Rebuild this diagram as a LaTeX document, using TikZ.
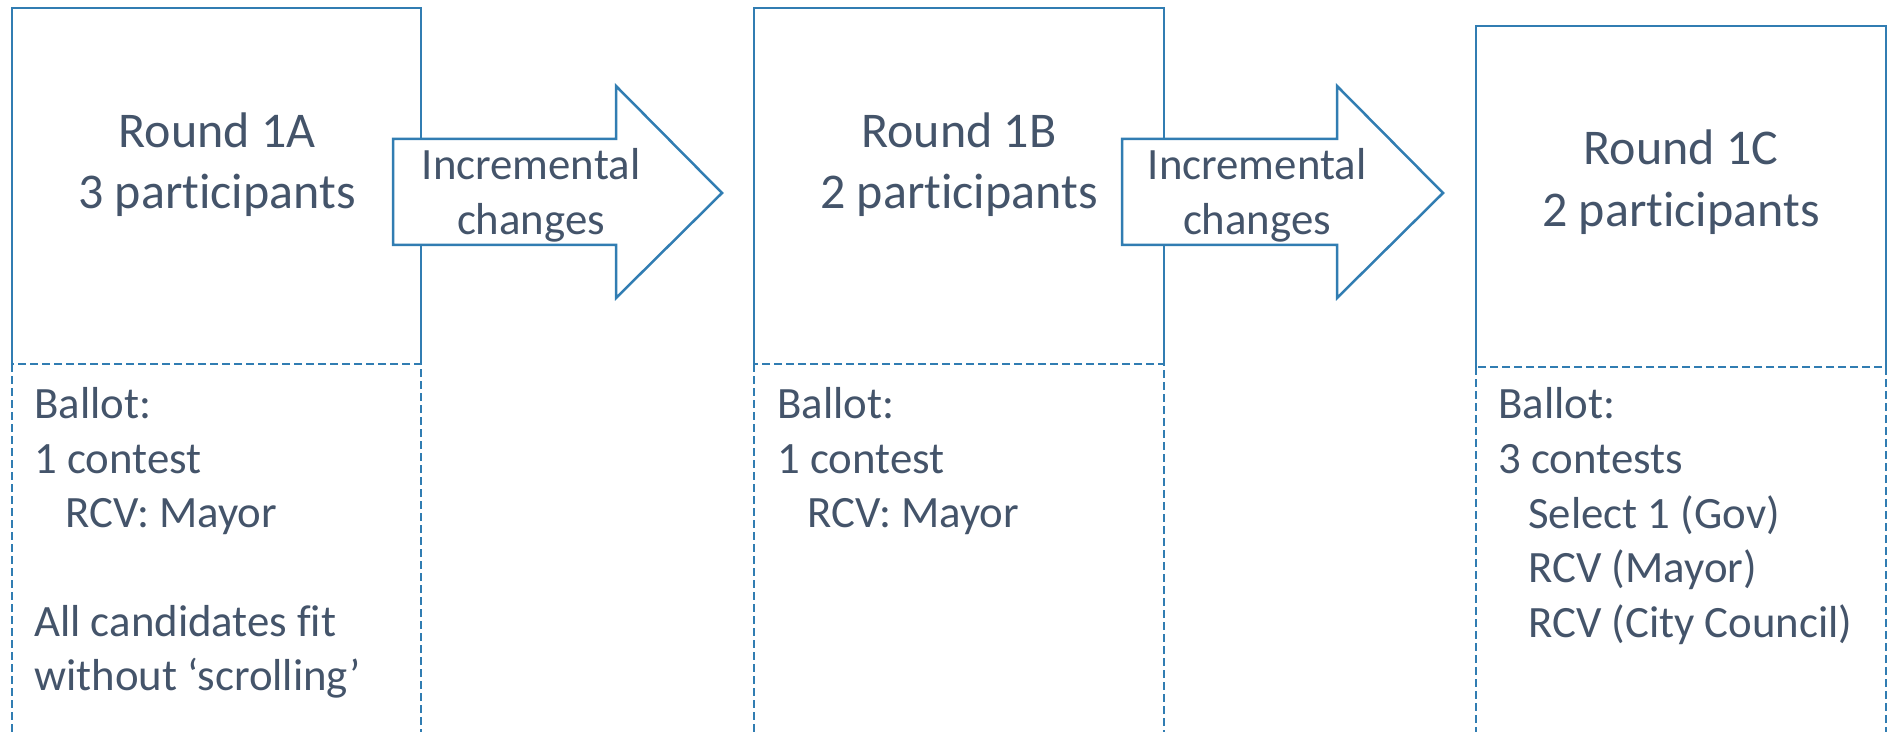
\documentclass[tikz,border=0pt]{standalone}
\usepackage{fontspec}
\setmainfont{Carlito}[Ligatures={NoCommon}]
\definecolor{roundblue}{RGB}{49,125,178}
\definecolor{roundtext}{RGB}{68,84,106}
\tikzset{
	upper/.style={draw=roundblue, line width=1.25pt},
	lower/.style={draw=roundblue, line width=1.05pt, dash pattern=on 4pt off 2pt},
	bigarrow/.style={draw=roundblue, line width=1.25pt, fill=white, line join=miter},
	title/.style={text=roundtext, font=\fontsize{25}{30.5}\selectfont, inner sep=0pt, anchor=base},
	ballot/.style={text=roundtext, font=\fontsize{22.4}{27.25}\selectfont, inner sep=0pt, anchor=base west},
	change/.style={text=roundtext, font=\fontsize{22.4}{27.5}\selectfont, inner sep=0pt, anchor=base},
}
\begin{document}
\begin{tikzpicture}[x=0.5pt,y=-0.5pt]
		\useasboundingbox (0,0) rectangle (1893,732);
		
		% round 1A
		\draw[upper] (12,364) -- (12,8) -- (421,8) -- (421,364);
		\draw[lower] (12,364) rectangle (421,760);
		\node[title] (roundA) at (217,148) {Round 1A};
		\node[title] (peopleA) at (217,209) {3 participants};
		\node[ballot] (ballotA) at (34,418) {Ballot:};
		\node[ballot] (countA) at (34,473) {1 contest};
		\node[ballot] (mayorA) at (65,527) {RCV: Mayor};
		\node[ballot] (fitA) at (34,636) {All candidates fit};
		\node[ballot] (scrollA) at (34,690) {without ‘scrolling’};
		
		% round 1B
		\draw[upper] (754,364) -- (754,8) -- (1164,8) -- (1164,364);
		\draw[lower] (754,364) rectangle (1164,760);
		\node[title] (roundB) at (959,148) {Round 1B};
		\node[title] (peopleB) at (959,209) {2 participants};
		\node[ballot] (ballotB) at (777,418) {Ballot:};
		\node[ballot] (countB) at (777,473) {1 contest};
		\node[ballot] (mayorB) at (807,527) {RCV: Mayor};
		
		% round 1C
		\draw[upper] (1476,367) -- (1476,26) -- (1886,26) -- (1886,367);
		\draw[lower] (1476,367) rectangle (1886,760);
		\node[title] (roundC) at (1681,165) {Round 1C};
		\node[title] (peopleC) at (1681,227) {2 participants};
		\node[ballot] (ballotC) at (1498,418) {Ballot:};
		\node[ballot] (countC) at (1498,473) {3 contests};
		\node[ballot] (govC) at (1528,528) {Select 1 (Gov)};
		\node[ballot] (mayorC) at (1528,582) {RCV (Mayor)};
		\node[ballot] (councilC) at (1528,637) {RCV (City Council)};
		
		% changes between rounds
		\draw[bigarrow] (393,139) -- (616,139) -- (616,86) -- (722,193) -- (616,298) -- (616,245) -- (393,245) -- cycle;
		\node[change] (stepAB) at (531,180) {Incremental};
		\node[change] (stepABb) at (531,235) {changes};
		\draw[bigarrow] (1122,139) -- (1337,139) -- (1337,86) -- (1443,193) -- (1337,298) -- (1337,245) -- (1122,245) -- cycle;
		\node[change] (stepBC) at (1257,180) {Incremental};
		\node[change] (stepBCb) at (1257,235) {changes};
		
\end{tikzpicture}
\end{document}
